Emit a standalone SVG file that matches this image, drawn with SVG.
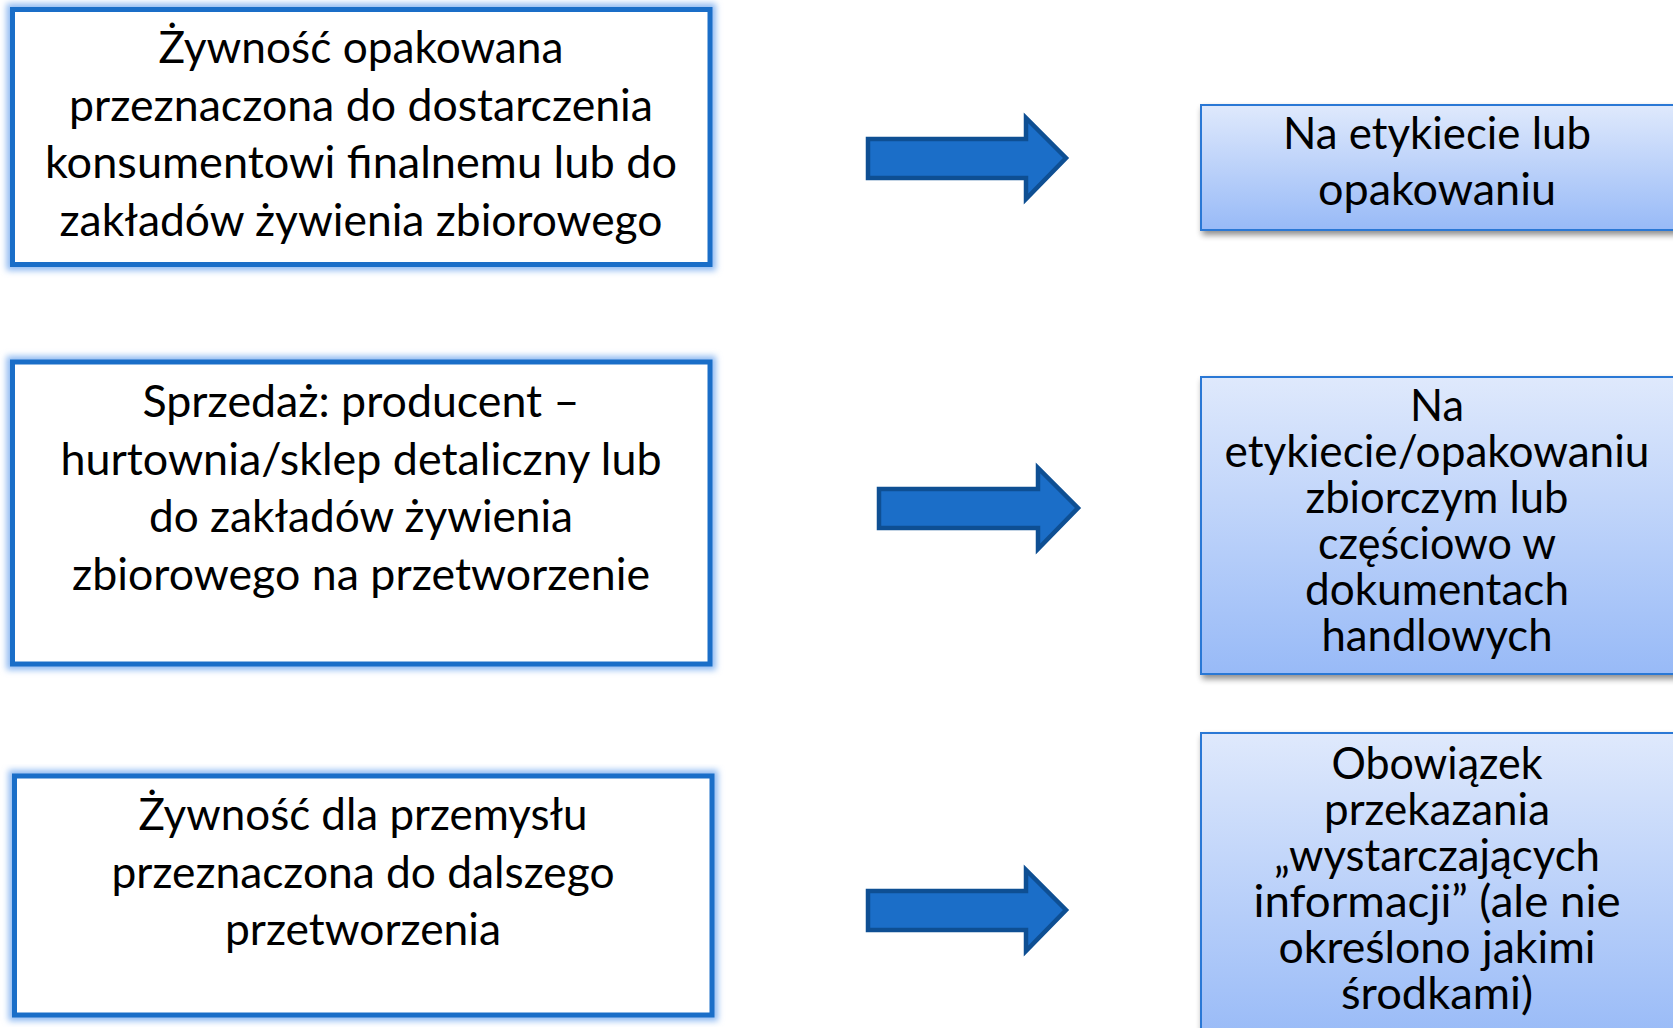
<svg xmlns="http://www.w3.org/2000/svg" width="1673" height="1028" viewBox="0 0 1673 1028">
<defs>
<style>
.lt{font-family:Lato,"Open Sans","Liberation Sans",sans-serif;font-size:44px;fill:#000;text-anchor:middle}
.rt{font-family:Lato,"Open Sans","Liberation Sans",sans-serif;font-size:43.5px;fill:#000;text-anchor:middle}
.lbox{fill:#fff;stroke:#1a6ec8;stroke-width:5}
.glow{fill:none;stroke:#8fbaf2;stroke-width:12;filter:url(#blur)}
.rbox{fill:url(#grad);stroke:#2a78d5;stroke-width:2}
.arrow{fill:#1b6ec8;stroke:#0e4f93;stroke-width:4.5;stroke-linejoin:miter}
</style>
<linearGradient id="grad" x1="0" y1="0" x2="0" y2="1">
<stop offset="0" stop-color="#dfe9fc"/>
<stop offset="1" stop-color="#98baf7"/>
</linearGradient>
<filter id="blur" x="-5%" y="-5%" width="110%" height="110%"><feGaussianBlur stdDeviation="3"/></filter>
<filter id="shadow" x="-5%" y="-5%" width="115%" height="120%">
<feGaussianBlur in="SourceAlpha" stdDeviation="3"/>
<feOffset dx="2" dy="4" result="b"/>
<feComponentTransfer><feFuncA type="linear" slope="0.45"/></feComponentTransfer>
<feMerge><feMergeNode/><feMergeNode in="SourceGraphic"/></feMerge>
</filter>
</defs>
<rect width="1673" height="1028" fill="#fff"/>

<g id="box1">
<rect class="glow" x="12.5" y="9.5" width="697.5" height="255"/>
<rect class="lbox" x="12.5" y="9.5" width="697.5" height="255"/>
<text class="lt" x="361" y="63" textLength="405" lengthAdjust="spacingAndGlyphs">Żywność opakowana</text>
<text class="lt" x="361" y="120.5" textLength="584" lengthAdjust="spacingAndGlyphs">przeznaczona do dostarczenia</text>
<text class="lt" x="361" y="178" textLength="632" lengthAdjust="spacingAndGlyphs">konsumentowi finalnemu lub do</text>
<text class="lt" x="361" y="235.5" textLength="603" lengthAdjust="spacingAndGlyphs">zakładów żywienia zbiorowego</text>
</g>

<g id="box2">
<rect class="glow" x="12.5" y="362" width="697.5" height="302"/>
<rect class="lbox" x="12.5" y="362" width="697.5" height="302"/>
<text class="lt" x="361" y="417" textLength="437" lengthAdjust="spacingAndGlyphs">Sprzedaż: producent –</text>
<text class="lt" x="361" y="474.5" textLength="601" lengthAdjust="spacingAndGlyphs">hurtownia/sklep detaliczny lub</text>
<text class="lt" x="361" y="532" textLength="424" lengthAdjust="spacingAndGlyphs">do zakładów żywienia</text>
<text class="lt" x="361" y="589.5" textLength="578" lengthAdjust="spacingAndGlyphs">zbiorowego na przetworzenie</text>
</g>

<g id="box3">
<rect class="glow" x="14.5" y="776" width="697.5" height="239"/>
<rect class="lbox" x="14.5" y="776" width="697.5" height="239"/>
<text class="lt" x="363" y="830" textLength="449" lengthAdjust="spacingAndGlyphs">Żywność dla przemysłu</text>
<text class="lt" x="363" y="887.5" textLength="503" lengthAdjust="spacingAndGlyphs">przeznaczona do dalszego</text>
<text class="lt" x="363" y="945" textLength="276" lengthAdjust="spacingAndGlyphs">przetworzenia</text>
</g>

<g id="rbox1" filter="url(#shadow)">
<rect class="rbox" x="1201" y="105" width="480" height="125"/>
</g>
<g id="rbox1-text">
<text class="rt" x="1437" y="149" textLength="308" lengthAdjust="spacingAndGlyphs">Na etykiecie lub</text>
<text class="rt" x="1437" y="205" textLength="238" lengthAdjust="spacingAndGlyphs">opakowaniu</text>
</g>

<g id="rbox2" filter="url(#shadow)">
<rect class="rbox" x="1201" y="377" width="480" height="297"/>
</g>
<g id="rbox2-text">
<text class="rt" x="1437" y="421" textLength="54" lengthAdjust="spacingAndGlyphs">Na</text>
<text class="rt" x="1437" y="467" textLength="425" lengthAdjust="spacingAndGlyphs">etykiecie/opakowaniu</text>
<text class="rt" x="1437" y="513" textLength="263" lengthAdjust="spacingAndGlyphs">zbiorczym lub</text>
<text class="rt" x="1437" y="559" textLength="238" lengthAdjust="spacingAndGlyphs">częściowo w</text>
<text class="rt" x="1437" y="605" textLength="264" lengthAdjust="spacingAndGlyphs">dokumentach</text>
<text class="rt" x="1437" y="651" textLength="231" lengthAdjust="spacingAndGlyphs">handlowych</text>
</g>

<g id="rbox3" filter="url(#shadow)">
<rect class="rbox" x="1201" y="733" width="480" height="310"/>
</g>
<g id="rbox3-text">
<text class="rt" x="1437" y="779" textLength="211" lengthAdjust="spacingAndGlyphs">Obowiązek</text>
<text class="rt" x="1437" y="825" textLength="226" lengthAdjust="spacingAndGlyphs">przekazania</text>
<text class="rt" x="1437" y="871" textLength="326" lengthAdjust="spacingAndGlyphs">„wystarczających</text>
<text class="rt" x="1437" y="917" textLength="367" lengthAdjust="spacingAndGlyphs">informacji” (ale nie</text>
<text class="rt" x="1437" y="963" textLength="317" lengthAdjust="spacingAndGlyphs">określono jakimi</text>
<text class="rt" x="1437" y="1009" textLength="192" lengthAdjust="spacingAndGlyphs">środkami)</text>
</g>

<g id="connectors">
<polygon class="arrow" points="868,139 1026,139 1026,118 1066,158 1026,199 1026,178 868,178"/>
<polygon class="arrow" points="879,489 1038,489 1038,468 1078,508 1038,549 1038,528 879,528"/>
<polygon class="arrow" points="868,891 1026,891 1026,870 1066,910 1026,951 1026,930 868,930"/>
</g>
</svg>
